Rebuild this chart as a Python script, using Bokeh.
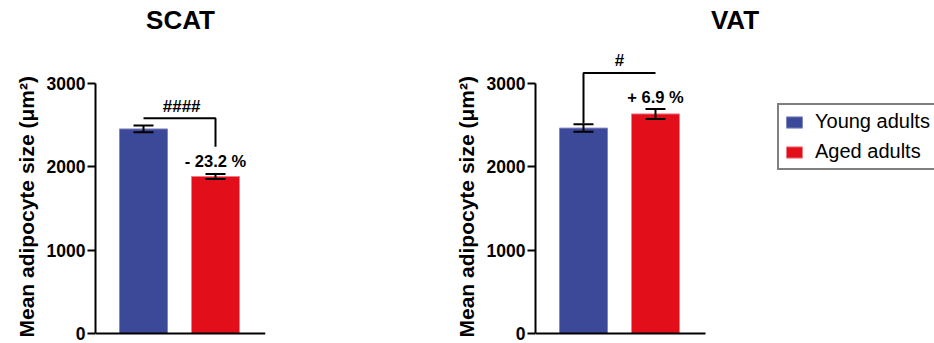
from bokeh.plotting import figure
from bokeh.models import Range1d, FixedTicker, Legend, LegendItem, Title
from bokeh.layouts import row
from bokeh.core.properties import value
from bokeh.embed import file_html
from bokeh.resources import INLINE

# ---- data ----
groups = ["Young adults", "Aged adults"]
positions = [1, 2]
scat_mean = [2450, 1880]
scat_err = [40, 30]
vat_mean = [2460, 2630]
vat_err = [45, 60]
y_ticks = [0, 1000, 2000, 3000]
colors = ["#3C4898", "#E20E1A"]
edge_colors = ["#8088C2", "#F07C84"]
scat_sig = "####"
scat_change = "- 23.2 %"
vat_sig = "#"
vat_change = "+ 6.9 %"
y_label = "Mean adipocyte size (μm²)"

FONT = "Liberation Sans"
PX = 72.0            # pixels per x unit
X0 = 1 - 48 / PX     # x value at the y axis
AXIS_W = 170 / PX    # visible x axis length in data units
H = 343
B_LEFT, B_TOP, B_BOTTOM = 95, 37, 4
FRAME_BOTTOM = H - B_BOTTOM
ZERO_PX = 333.0
PPU = (ZERO_PX - 82.5) / 3000.0     # pixels per y unit
Y_START = -(FRAME_BOTTOM - ZERO_PX) / PPU
Y_END = 3000 + (82.5 - B_TOP) / PPU


def panel(title, means, errs, width, border_right, frame_w):
    p = figure(width=width, height=H, output_backend="svg", toolbar_location=None,
               x_range=Range1d(X0, X0 + frame_w / PX), y_range=Range1d(Y_START, Y_END),
               x_axis_location=None, y_axis_location="left",
               min_border_left=B_LEFT, min_border_right=border_right,
               min_border_top=B_TOP, min_border_bottom=B_BOTTOM,
               title=title)
    p.outline_line_color = None
    p.grid.visible = False
    p.background_fill_color = "white"
    p.border_fill_color = "white"
    p.title.align = "center"
    p.title.text_font = FONT
    p.title.text_font_size = "26px"
    p.title.text_font_style = "bold"
    p.title.text_color = "black"
    p.title.standoff = 5

    ax = p.yaxis[0]
    ax.ticker = FixedTicker(ticks=y_ticks)
    ax.bounds = (0, 3000)
    ax.axis_line_width = 2
    ax.axis_line_color = "black"
    ax.major_tick_line_width = 2
    ax.major_tick_line_color = "black"
    ax.major_tick_out = 8
    ax.major_tick_in = 0
    ax.minor_tick_line_color = None
    ax.major_label_text_font = FONT
    ax.major_label_text_font_size = "17.5px"
    ax.major_label_text_font_style = "bold"
    ax.major_label_text_color = "black"
    ax.major_label_standoff = 2

    # y axis label as a left-side title, starting near the bottom of the axis
    p.add_layout(Title(text=y_label, align="left", offset=2, standoff=12,
                       text_font=FONT, text_font_size="21px", text_font_style="bold",
                       text_color="black"), "left")

    rends = []
    for i in range(len(groups)):
        r = p.vbar(x=[positions[i]], top=[means[i]], bottom=0, width=48 / PX,
                   fill_color=colors[i], line_color=edge_colors[i], line_width=1)
        rends.append(r)
        lo, hi = means[i] - errs[i], means[i] + errs[i]
        cap = 10 / PX
        p.segment(x0=[positions[i]], y0=[lo], x1=[positions[i]], y1=[hi],
                  line_color="black", line_width=2)
        p.segment(x0=[positions[i] - cap, positions[i] - cap], y0=[lo, hi],
                  x1=[positions[i] + cap, positions[i] + cap], y1=[lo, hi],
                  line_color="black", line_width=2)
    # baseline (x axis line)
    p.segment(x0=[X0], y0=[0], x1=[X0 + AXIS_W], y1=[0], line_color="black", line_width=2)
    return p, rends


def label(p, x, y, t, size):
    p.text(x=[x], y=[y], text=[t], text_align="center", text_baseline="middle",
           text_font=value(FONT), text_font_size=size, text_font_style="bold",
           text_color="black")


p1, r1 = panel("SCAT", scat_mean, scat_err, 440, 175, 170)
p1.line(x=[positions[0], positions[1], positions[1]], y=[2577, 2577, 2236],
        line_color="black", line_width=2)
label(p1, 1.53, 2723, scat_sig, "17px")
label(p1, 2.0, 2062, scat_change, "16.5px")

p2, r2 = panel("VAT", vat_mean, vat_err, 494, 0, 399)
p2.line(x=[positions[0], positions[0], positions[1]], y=[2517, 3119, 3119],
        line_color="black", line_width=2)
label(p2, 1.5, 3265, vat_sig, "17px")
label(p2, 2.0, 2837, vat_change, "16.5px")

legend = Legend(items=[LegendItem(label=groups[0], renderers=[r2[0]]),
                       LegendItem(label=groups[1], renderers=[r2[1]])],
                location=(242, FRAME_BOTTOM - 170), orientation="vertical")
legend.border_line_color = "black"
legend.border_line_width = 2
legend.padding = 5
legend.spacing = 7
legend.margin = 0
legend.glyph_width = 20
legend.glyph_height = 14
legend.label_standoff = 11
legend.label_text_font = FONT
legend.label_text_font_size = "20px"
legend.label_text_color = "black"
legend.background_fill_color = "white"
legend.background_fill_alpha = 1
p2.add_layout(legend)

layout = row(p1, p2)
open("out.html", "w").write(file_html(layout, INLINE))
